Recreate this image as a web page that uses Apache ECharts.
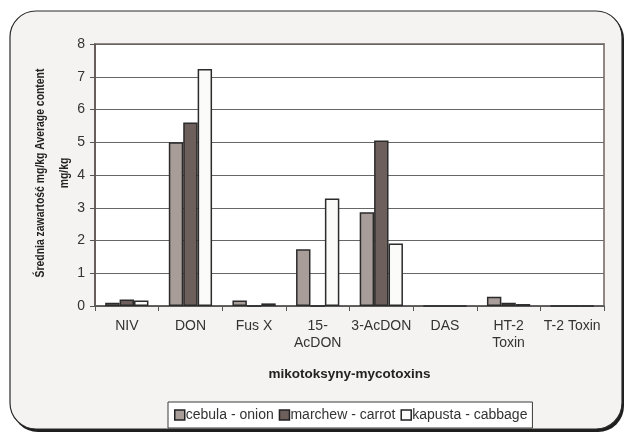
<!DOCTYPE html>
<html>
<head>
<meta charset="utf-8">
<script src="https://cdn.jsdelivr.net/npm/echarts@6/dist/echarts.min.js"></script>
<style>
  html, body { margin: 0; padding: 0; background: #ffffff; }
  #chart { width: 626px; height: 434px; }
</style>
</head>
<body>
<div id="chart"></div>
<script>
// Mycotoxin categories on the x axis
const categories = ['NIV', 'DON', 'Fus X', '15-\nAcDON', '3-AcDON', 'DAS', 'HT-2\nToxin', 'T-2 Toxin'];

// Average content, mg/kg, per vegetable
const onion   = [0.10, 5.00, 0.17, 1.73, 2.86, 0, 0.28, 0];
const carrot  = [0.20, 5.60, 0,    0,    5.05, 0, 0.10, 0];
const cabbage = [0.17, 7.24, 0.08, 3.28, 1.91, 0, 0.06, 0];

const seriesNames = ['cebula - onion', 'marchew - carrot', 'kapusta - cabbage'];
const yTicks = [0, 1, 2, 3, 4, 5, 6, 7, 8];
const yTitle = 'Średnia zawartość mg/kg Average content\nmg/kg';

const font = '"Liberation Sans", Arial, sans-serif';
const colors = ['#a99d99', '#6d5f5b', '#fbfbf9'];

const chart = echarts.init(document.getElementById('chart'), null, { renderer: 'canvas' });

function bar(name, data, color) {
  return {
    name: name,
    type: 'bar',
    data: data,
    barGap: '0%',
    barCategoryGap: '32%',
    itemStyle: { color: color, borderColor: '#2b2b2b', borderWidth: 1.5 }
  };
}

chart.setOption({
  animation: false,
  backgroundColor: '#ffffff',
  textStyle: { fontFamily: font },
  graphic: [
    {
      type: 'rect', z: -10, silent: true,
      shape: { x: 12, y: 13, width: 612, height: 419, r: 26 },
      style: { fill: '#1e1e1e' }
    },
    {
      type: 'rect', z: -9, silent: true,
      shape: { x: 10, y: 11, width: 612, height: 418, r: 26 },
      style: { fill: '#f4f3f1', stroke: '#2a2a2a', lineWidth: 1.2 }
    },
    {
      // condensed, rotated value-axis title
      type: 'text', silent: true,
      x: 52, y: 173,
      rotation: Math.PI / 2,
      scaleX: 0.8,
      style: {
        text: yTitle,
        font: 'bold 13px "Liberation Sans", Arial, sans-serif',
        fill: '#222222',
        align: 'center',
        verticalAlign: 'middle',
        lineHeight: 24
      }
    }
  ],
  grid: {
    left: 95, top: 44, right: 22, bottom: 128,
    show: true, backgroundColor: '#ffffff',
    borderColor: '#928782', borderWidth: 2
  },
  legend: {
    top: 402, left: 168,
    data: seriesNames,
    itemWidth: 10, itemHeight: 10, itemGap: 5,
    icon: 'rect',
    backgroundColor: '#ffffff',
    borderColor: '#3a3a3a', borderWidth: 1, borderRadius: 0,
    padding: [6, 5, 6, 6],
    textStyle: { fontFamily: font, fontSize: 14, color: '#333333', padding: [0, 0, 0, -4] },
    itemStyle: { borderColor: '#222222', borderWidth: 1.5 }
  },
  xAxis: {
    type: 'category',
    data: categories,
    name: 'mikotoksyny-mycotoxins',
    nameLocation: 'middle',
    nameGap: 61,
    nameTextStyle: { fontFamily: font, fontSize: 13.5, fontWeight: 'bold', color: '#222222' },
    axisLine: { show: true, lineStyle: { color: '#555555', width: 1.5 } },
    axisTick: { show: true, length: 5, lineStyle: { color: '#555555', width: 1 } },
    axisLabel: { fontFamily: font, fontSize: 14, color: '#333333', margin: 12, lineHeight: 17, interval: 0 }
  },
  yAxis: {
    type: 'value',
    min: 0, max: 8, interval: 1,
    axisLine: { show: true, lineStyle: { color: '#5a524f', width: 1.5 } },
    axisTick: { show: true, length: 5, lineStyle: { color: '#555555' } },
    axisLabel: {
      fontFamily: font, fontSize: 14, color: '#333333', margin: 10,
      formatter: function (v) { return yTicks.indexOf(v) >= 0 ? String(v) : ''; }
    },
    splitLine: { show: true, lineStyle: { color: '#666666', width: 1 } }
  },
  series: [
    bar(seriesNames[0], onion, colors[0]),
    bar(seriesNames[1], carrot, colors[1]),
    bar(seriesNames[2], cabbage, colors[2])
  ]
});
</script>
</body>
</html>
